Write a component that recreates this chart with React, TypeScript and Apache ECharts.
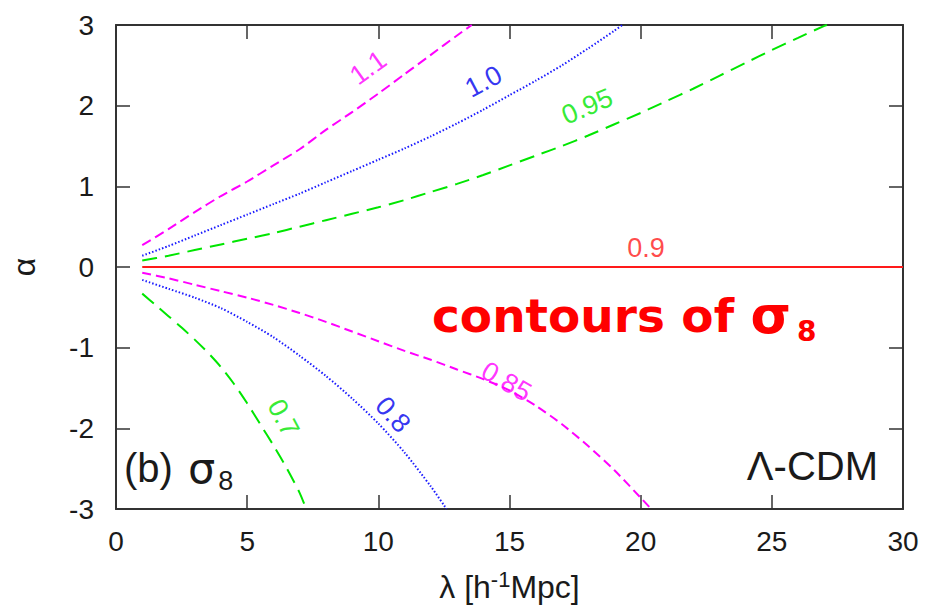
import React, { useEffect, useRef } from "react";
import * as echarts from "echarts";

// Contour lines of sigma_8 in the (lambda, alpha) plane: [lambda, alpha]
const sigma110: number[][] = [[1, 0.27], [2, 0.47], [3, 0.68], [4, 0.88], [5, 1.06], [6, 1.26], [7, 1.46], [8, 1.7], [9, 1.92], [10, 2.15], [11, 2.39], [12, 2.63], [13, 2.87], [13.56, 3.0]];
const sigma100: number[][] = [[1, 0.14], [2, 0.26], [3, 0.39], [4, 0.52], [5, 0.65], [6, 0.78], [7, 0.91], [8, 1.05], [9, 1.19], [10, 1.33], [11, 1.47], [12, 1.62], [13, 1.78], [14, 1.95], [15, 2.13], [16, 2.31], [17, 2.5], [18, 2.71], [19, 2.93], [19.3, 3.0]];
const sigma095: number[][] = [[1, 0.08], [2, 0.14], [3, 0.21], [4, 0.28], [5, 0.35], [6, 0.42], [7, 0.5], [8, 0.58], [9, 0.66], [10, 0.74], [11, 0.83], [12, 0.93], [13, 1.03], [14, 1.14], [15, 1.26], [16, 1.38], [17, 1.5], [18, 1.63], [19, 1.77], [20, 1.91], [21, 2.06], [22, 2.21], [23, 2.37], [24, 2.53], [25, 2.69], [26, 2.84], [27, 2.99], [27.1, 3.0]];
const sigma090: number[][] = [[1, 0], [30, 0]];
const sigma085: number[][] = [[1, -0.07], [2, -0.14], [3, -0.22], [4, -0.3], [5, -0.38], [6, -0.47], [7, -0.57], [8, -0.68], [9, -0.8], [10, -0.92], [11, -1.04], [12, -1.15], [13, -1.27], [14, -1.39], [15, -1.53], [16, -1.72], [17, -1.95], [18, -2.22], [19, -2.52], [20, -2.86], [20.4, -3.0]];
const sigma080: number[][] = [[1, -0.16], [2, -0.27], [3, -0.38], [4, -0.51], [5, -0.68], [6, -0.87], [7, -1.1], [8, -1.35], [9, -1.63], [10, -1.94], [11, -2.3], [12, -2.72], [12.6, -3.0]];
const sigma070: number[][] = [[1, -0.33], [1.5, -0.47], [2, -0.61], [2.5, -0.75], [3, -0.9], [3.5, -1.06], [4, -1.24], [4.5, -1.45], [5, -1.69], [5.5, -1.95], [6, -2.21], [6.5, -2.49], [7, -2.8], [7.25, -3.0]];

// Contour level labels and where they sit on the plane
const levelNames = ["1.1", "1.0", "0.95", "0.9", "0.85", "0.8", "0.7"];
const labelLambda = [9.61, 14.01, 17.96, 20.2, 14.89, 10.56, 6.38];
const labelAlpha = [2.47, 2.3, 1.99, 0.24, -1.42, -1.83, -1.87];

// Axis ranges
const lambdaRange = [0, 30];
const alphaRange = [-3, 3];

const MAGENTA = "#ff00ff";
const BLUE = "#1a1aff";
const GREEN = "#00e600";
const RED = "#ff1a1a";
const INK = "#1a1a1a";
const FRAME = "#333333";
const SANS = "'Liberation Sans', Arial, Helvetica, sans-serif";
const DEJAVU = "'DejaVu Sans', sans-serif";

const curves = [
  { data: sigma110, color: MAGENTA, width: 2, dash: [10, 5] },
  { data: sigma100, color: BLUE, width: 2, dash: [1.5, 2] },
  { data: sigma095, color: GREEN, width: 2, dash: [15, 8] },
  { data: sigma090, color: RED, width: 1.8, dash: "solid" as any },
  { data: sigma085, color: MAGENTA, width: 2, dash: [9, 5] },
  { data: sigma080, color: BLUE, width: 2, dash: [1.5, 2] },
  { data: sigma070, color: GREEN, width: 2, dash: [15, 8] },
];
const labelColors = [MAGENTA, "#0000ee", GREEN, RED, MAGENTA, "#0000ee", GREEN];
const labelAngles = [36, 28, 23, 0, -30, -48, -62];

export default function App() {
  const ref = useRef<HTMLDivElement>(null);

  useEffect(() => {
    if (!ref.current) return;
    const chart = echarts.init(ref.current, undefined, { renderer: "svg" });

    const frameAxis = {
      axisLine: { show: true, onZero: false, lineStyle: { color: FRAME, width: 2 } },
      axisTick: { show: true, inside: true, length: 14, lineStyle: { color: FRAME, width: 1.5 } },
      splitLine: { show: false },
    };

    const lineSeries = curves.map((c) => ({
      type: "line",
      data: c.data,
      showSymbol: false,
      smooth: 0.25,
      clip: true,
      lineStyle: { color: c.color, width: c.width, type: c.dash },
      z: 3,
    }));

    const labelSeries = levelNames.map((name, i) => ({
      type: "scatter",
      data: [[labelLambda[i], labelAlpha[i]]],
      symbolSize: 0,
      silent: true,
      z: 4,
      label: {
        show: true,
        position: "inside",
        formatter: name,
        rotate: labelAngles[i],
        color: labelColors[i],
        fontSize: 27,
        fontFamily: SANS,
      },
    }));

    chart.setOption({
      animation: false,
      backgroundColor: "#ffffff",
      grid: { left: 113, right: 24, top: 25, bottom: 101 },
      xAxis: [
        {
          type: "value",
          min: lambdaRange[0],
          max: lambdaRange[1],
          interval: 5,
          position: "bottom",
          ...frameAxis,
          axisLabel: { fontSize: 28, color: INK, margin: 18, fontFamily: SANS },
          name: "{a|λ [h}{sup|-1}{a|Mpc]}",
          nameLocation: "middle",
          nameGap: 59,
          nameTextStyle: {
            rich: {
              a: { fontSize: 32, color: INK, fontFamily: SANS, lineHeight: 38 },
              sup: { fontSize: 22, color: INK, fontFamily: SANS, lineHeight: 14, verticalAlign: "top" },
            },
          },
        },
        {
          type: "value",
          min: lambdaRange[0],
          max: lambdaRange[1],
          interval: 5,
          position: "top",
          ...frameAxis,
          axisLabel: { show: false },
        },
      ],
      yAxis: [
        {
          type: "value",
          min: alphaRange[0],
          max: alphaRange[1],
          interval: 1,
          position: "left",
          ...frameAxis,
          axisLabel: { fontSize: 28, color: INK, margin: 22, fontFamily: SANS },
          name: "α",
          nameLocation: "middle",
          nameRotate: 90,
          nameGap: 76,
          nameTextStyle: { fontSize: 32, color: INK, fontFamily: SANS },
        },
        {
          type: "value",
          min: alphaRange[0],
          max: alphaRange[1],
          interval: 1,
          position: "right",
          ...frameAxis,
          axisLabel: { show: false },
        },
      ],
      series: [...lineSeries, ...labelSeries],
      graphic: [
        {
          type: "text",
          x: 124,
          y: 494,
          z: 10,
          style: {
            text: "{a|(b) }{s|σ}{sub|8}",
            textVerticalAlign: "bottom",
            rich: {
              a: { fontSize: 40, fill: INK, fontFamily: SANS, lineHeight: 52, padding: [0, 4, 0, 0] },
              s: { fontSize: 43, fill: INK, fontFamily: DEJAVU, lineHeight: 52 },
              sub: { fontSize: 27, fill: INK, fontFamily: SANS, lineHeight: 8, verticalAlign: "bottom", padding: [0, 0, 0, 3] },
            },
          },
        },
        {
          type: "text",
          x: 878,
          y: 466,
          z: 10,
          style: {
            text: "Λ-CDM",
            fill: INK,
            font: `40px ${SANS}`,
            textAlign: "right",
            textVerticalAlign: "middle",
          },
        },
        {
          type: "text",
          x: 432,
          y: 345,
          z: 10,
          style: {
            text: "{a|contours of }{s|σ}{sub|8}",
            textVerticalAlign: "bottom",
            rich: {
              a: { fontSize: 47, fontWeight: "bold", fill: "#ff0000", fontFamily: DEJAVU, lineHeight: 60 },
              s: { fontSize: 52, fontWeight: "bold", fill: "#ff0000", fontFamily: DEJAVU, lineHeight: 60 },
              sub: { fontSize: 28, fontWeight: "bold", fill: "#ff0000", fontFamily: DEJAVU, lineHeight: 8, verticalAlign: "bottom", padding: [0, 0, 0, 6] },
            },
          },
        },
      ],
    });

    return () => chart.dispose();
  }, []);

  return (
    <div
      ref={ref}
      style={{ position: "absolute", left: 0, top: 0, width: 927, height: 610, background: "#fff" }}
    />
  );
}
